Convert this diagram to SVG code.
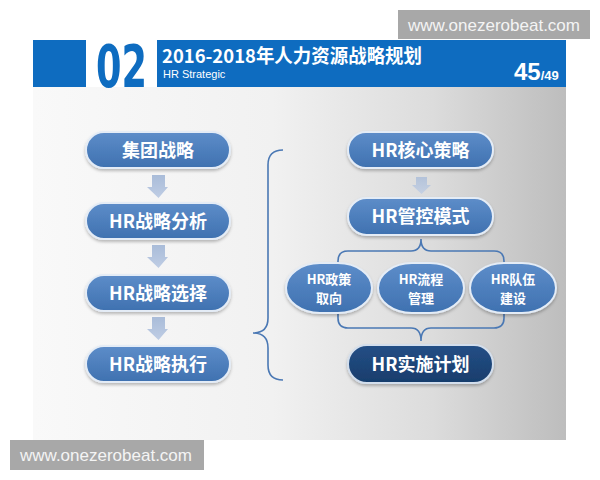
<svg xmlns="http://www.w3.org/2000/svg" width="600" height="480" viewBox="0 0 600 480">
<defs>
<linearGradient id="bg" x1="0" y1="0" x2="1" y2="0">
<stop offset="0" stop-color="#f9f9f9"/>
<stop offset="0.45" stop-color="#f1f1f1"/>
<stop offset="0.75" stop-color="#dcdcdc"/>
<stop offset="1" stop-color="#bdbdbd"/>
</linearGradient>
<linearGradient id="pill" x1="0" y1="0" x2="0" y2="1">
<stop offset="0" stop-color="#5d8dc9"/>
<stop offset="1" stop-color="#3f71b0"/>
</linearGradient>
<linearGradient id="dark" x1="0" y1="0" x2="0" y2="1">
<stop offset="0" stop-color="#244f86"/>
<stop offset="1" stop-color="#183d6c"/>
</linearGradient>
<linearGradient id="arr" x1="0" y1="0" x2="0" y2="1">
<stop offset="0" stop-color="#a9bcd9"/>
<stop offset="1" stop-color="#bfcde4"/>
</linearGradient>
<filter id="sh" x="-10%" y="-20%" width="120%" height="150%">
<feDropShadow dx="0" dy="2" stdDeviation="1.5" flood-color="#000" flood-opacity="0.25"/>
</filter>
</defs>
<style>
.wm{fill:#a8a8a8}
.wmt{fill:#f4f4f4;font-family:"Liberation Sans",Arial,sans-serif;font-size:17px}
.hd{fill:#0e6cc0}
.p{fill:url(#pill);stroke:#e4ecf6;stroke-width:2;filter:url(#sh)}
.pd{fill:url(#dark);stroke:#d3deec;stroke-width:2;filter:url(#sh)}
.t{fill:#fff;font-family:"Noto Sans CJK SC","Liberation Sans",sans-serif;font-weight:bold;font-size:18px;text-anchor:middle}
.ts{fill:#fff;font-family:"Noto Sans CJK SC","Liberation Sans",sans-serif;font-weight:bold;font-size:13px;text-anchor:middle}
.br{fill:none;stroke:#4a78b4;stroke-width:1.6}
.ar{fill:url(#arr)}
</style>
<rect width="600" height="480" fill="#fff"/>
<rect x="33" y="87" width="533" height="353" fill="url(#bg)"/>
<g id="header">
<rect class="hd" x="33" y="40" width="53" height="47"/>
<text x="96" y="87" fill="#0e6cc0" font-family="'Liberation Sans Narrow','DejaVu Sans Condensed','Liberation Sans',sans-serif" font-weight="bold" font-size="58" textLength="51" lengthAdjust="spacingAndGlyphs">02</text>
<rect class="hd" x="157" y="40" width="409" height="47"/>
<text x="162" y="63" fill="#fff" font-family="'Noto Sans CJK SC','Liberation Sans',sans-serif" font-weight="bold" font-size="19" textLength="260" lengthAdjust="spacingAndGlyphs">2016-2018年人力资源战略规划</text>
<text x="163" y="78" fill="#fff" font-family="'Liberation Sans',Arial,sans-serif" font-size="11">HR Strategic</text>
<text x="514" y="80" fill="#fff" font-family="'Liberation Sans',Arial,sans-serif" font-weight="bold" font-size="24">45<tspan font-size="13">/49</tspan></text>
</g>
<g id="connectors">
<path class="ar" d="M152,175 H165 V187 H168 L158.5,198 L147,187 H152 Z"/>
<path class="ar" d="M152,245 H165 V257 H168 L158.5,268 L147,257 H152 Z"/>
<path class="ar" d="M152,317 H165 V329 H168 L158.5,340 L147,329 H152 Z"/>
<path class="ar" d="M416,177 H427 V185 H431 L421.5,194 L412,185 H416 Z" opacity="0.8"/>
<path class="br" d="M283,150 Q268,150 268,165 V318 Q268,333 253,333 Q268,333 268,348 V365 Q268,380 283,380"/>
<path class="br" d="M338,266 V261 Q338,251 348,251 H411 Q421,251 421,239 Q421,251 431,251 H494 Q504,251 504,261 V266"/>
<path class="br" d="M338,310 V318 Q338,328 348,328 H411 Q421,328 421,341 Q421,328 431,328 H494 Q504,328 504,318 V310"/>
</g>
<g id="n1"><rect class="p" x="86" y="132" width="144" height="36" rx="18"/><text class="t" x="158" y="156.5">集团战略</text></g>
<g id="n2"><rect class="p" x="86" y="203" width="144" height="36" rx="18"/><text class="t" x="158" y="227.5">HR战略分析</text></g>
<g id="n3"><rect class="p" x="86" y="275" width="144" height="36" rx="18"/><text class="t" x="158" y="299.5">HR战略选择</text></g>
<g id="n4"><rect class="p" x="86" y="346" width="144" height="36" rx="18"/><text class="t" x="158" y="370.5">HR战略执行</text></g>
<g id="r1"><rect class="p" x="348" y="132" width="145" height="36" rx="18"/><text class="t" x="420.5" y="156.5">HR核心策略</text></g>
<g id="r2"><rect class="p" x="348" y="198" width="145" height="37" rx="18.5"/><text class="t" x="420.5" y="223">HR管控模式</text></g>
<g id="c1"><rect class="p" x="286" y="263" width="86" height="50" rx="34" ry="25"/><text class="ts" x="329" y="284">HR政策</text><text class="ts" x="329" y="303">取向</text></g>
<g id="c2"><rect class="p" x="378" y="263" width="86" height="50" rx="34" ry="25"/><text class="ts" x="421" y="284">HR流程</text><text class="ts" x="421" y="303">管理</text></g>
<g id="c3"><rect class="p" x="470" y="263" width="86" height="50" rx="34" ry="25"/><text class="ts" x="513" y="284">HR队伍</text><text class="ts" x="513" y="303">建设</text></g>
<g id="r3"><rect class="pd" x="348" y="345" width="145" height="38" rx="19"/><text class="t" x="420.5" y="370.5">HR实施计划</text></g>
<g id="watermarks">
<rect class="wm" x="398" y="10" width="192" height="29"/>
<text class="wmt" x="408" y="31">www.onezerobeat.com</text>
<rect class="wm" x="10" y="440" width="194" height="30"/>
<text class="wmt" x="20" y="461">www.onezerobeat.com</text>
</g>
</svg>
